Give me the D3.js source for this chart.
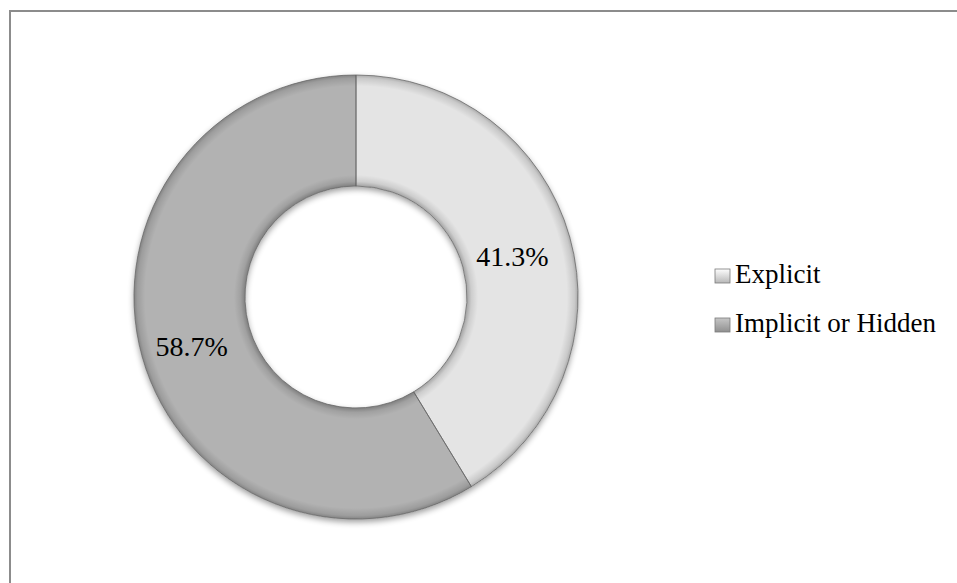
<!DOCTYPE html>
<html>
<head>
<meta charset="utf-8">
<script src="https://cdn.jsdelivr.net/npm/d3@7"></script>
<style>
  body { margin: 0; background: #fff; }
  text { font-family: "Liberation Serif", "DejaVu Serif", serif; fill: #000; }
</style>
</head>
<body>
<div id="chart"></div>
<script>
// data
var categories = ["Explicit", "Implicit or Hidden"];
var shares = [41.3, 58.7];
var sliceLabels = ["41.3%", "58.7%"];
var sliceColors = ["#e4e4e4", "#b2b2b2"];

var svgWidth = 957;
var svgHeight = 583;

var svg = d3.select("#chart")
    .append("svg")
    .attr("width", svgWidth)
    .attr("height", svgHeight);

var defs = svg.append("defs");

// chart frame (runs off the right / bottom edge like the source)
svg.append("rect")
    .attr("x", 10)
    .attr("y", 11)
    .attr("width", 1000)
    .attr("height", 640)
    .attr("fill", "none")
    .attr("stroke", "#8c8c8c")
    .attr("stroke-width", 2);

var cx = 356, cy = 297;
var outerR = 222, innerR = 111;

// soft shadow under the ring
var shadow = defs.append("filter")
    .attr("id", "shadow")
    .attr("x", "-20%").attr("y", "-20%")
    .attr("width", "140%").attr("height", "140%");
shadow.append("feGaussianBlur").attr("in", "SourceAlpha").attr("stdDeviation", 3);
shadow.append("feOffset").attr("dy", 3).attr("result", "blur");
shadow.append("feComponentTransfer").append("feFuncA").attr("type", "linear").attr("slope", 0.4);
var merge = shadow.append("feMerge");
merge.append("feMergeNode");
merge.append("feMergeNode").attr("in", "SourceGraphic");

// bevel shading: darker near inner & outer rim (ring coords, centre at 0,0)
var bevel = defs.append("radialGradient")
    .attr("id", "bevel")
    .attr("gradientUnits", "userSpaceOnUse")
    .attr("cx", 0).attr("cy", 0).attr("r", outerR);
var k = innerR / outerR;
[[k, 0.28], [k + 0.02, 0.10], [k + 0.05, 0], [0.95, 0], [0.985, 0.12], [1, 0.26]].forEach(function (s) {
    bevel.append("stop")
        .attr("offset", s[0])
        .attr("stop-color", "#000")
        .attr("stop-opacity", s[1]);
});

var pie = d3.pie().sort(null).value(d => d);
var arcs = pie(shares);

var arc = d3.arc().innerRadius(innerR).outerRadius(outerR);
var labelArc = d3.arc().innerRadius((innerR + outerR) / 2).outerRadius((innerR + outerR) / 2);

var ring = svg.append("g")
    .attr("transform", `translate(${cx}, ${cy})`);

var slices = ring.append("g").attr("filter", "url(#shadow)");

slices.selectAll("path.slice")
    .data(arcs)
    .enter()
    .append("path")
    .attr("class", "slice")
    .attr("d", arc)
    .attr("fill", (d, i) => sliceColors[i])
    .attr("stroke", "none");

// shading overlay
ring.selectAll("path.shade")
    .data(arcs)
    .enter()
    .append("path")
    .attr("class", "shade")
    .attr("d", arc)
    .attr("fill", "url(#bevel)")
    .attr("stroke", "#6a6a6a")
    .attr("stroke-width", 0.8);

// percentage labels
ring.selectAll("text.pct")
    .data(arcs)
    .enter()
    .append("text")
    .attr("class", "pct")
    .attr("x", d => labelArc.centroid(d)[0] - 4)
    .attr("y", d => labelArc.centroid(d)[1] + 14)
    .attr("text-anchor", "middle")
    .style("font-size", "28px")
    .text((d, i) => sliceLabels[i]);

// legend
var keyGrad = categories.map(function (c, i) {
    var g = defs.append("linearGradient")
        .attr("id", "key" + i)
        .attr("x1", 0).attr("y1", 0).attr("x2", 0).attr("y2", 1);
    var base = d3.color(sliceColors[i]);
    g.append("stop").attr("offset", 0).attr("stop-color", base.brighter(0.3));
    g.append("stop").attr("offset", 1).attr("stop-color", base.darker(0.6));
    return "url(#key" + i + ")";
});

var legend = svg.append("g")
    .attr("transform", "translate(715, 269)");

var rows = legend.selectAll("g")
    .data(categories)
    .enter()
    .append("g")
    .attr("transform", (d, i) => `translate(0, ${i * 49})`);

rows.append("rect")
    .attr("width", 15)
    .attr("height", 14)
    .attr("fill", (d, i) => keyGrad[i])
    .attr("stroke", "#7a7a7a")
    .attr("stroke-width", 0.8);

rows.append("text")
    .attr("x", 20)
    .attr("y", 14)
    .style("font-size", "27px")
    .text(d => d);
</script>
</body>
</html>
